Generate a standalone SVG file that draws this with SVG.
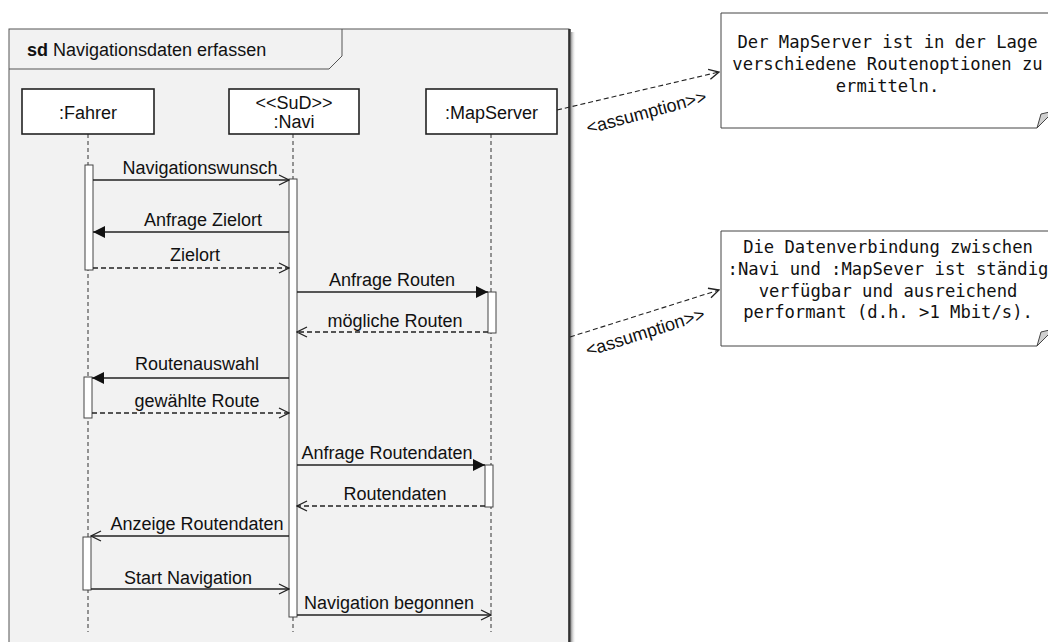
<svg xmlns="http://www.w3.org/2000/svg" width="1048" height="642" viewBox="0 0 1048 642">
<style>
.frame{fill:#f2f2f2;stroke:#555;stroke-width:1}
.tab{fill:none;stroke:#555;stroke-width:1}
.head{fill:#fff;stroke:#222;stroke-width:1.6}
.life{stroke:#333;stroke-width:1;stroke-dasharray:4 3;fill:none}
.act{fill:#fff;stroke:#444;stroke-width:1}
.msg{stroke:#222;stroke-width:1.3;fill:none}
.ret{stroke:#222;stroke-width:1.3;fill:none;stroke-dasharray:5 3}
.dep{stroke:#222;stroke-width:1.1;fill:none;stroke-dasharray:5 3}
.lbl{font-family:"Liberation Sans",Arial,sans-serif;font-size:18px;fill:#111;text-anchor:middle}
.title{font-family:"Liberation Sans",Arial,sans-serif;font-size:18px;fill:#111}
.note{fill:#fff;stroke:#444;stroke-width:1}
.fold{fill:#d0d0d0;stroke:#444;stroke-width:1}
.ntxt{font-family:"DejaVu Sans Mono","Liberation Mono",monospace;font-size:17.2px;fill:#111;text-anchor:middle}
</style>
<defs>
<marker id="open" viewBox="0 0 12 12" refX="11" refY="6" markerWidth="12" markerHeight="12" markerUnits="userSpaceOnUse" orient="auto"><path d="M1,1 L11,6 L1,11" fill="none" stroke="#222" stroke-width="1.3"/></marker>
<marker id="filled" viewBox="0 0 12 12" refX="12" refY="6" markerWidth="12" markerHeight="12" markerUnits="userSpaceOnUse" orient="auto"><path d="M0,0 L12,6 L0,12 Z" fill="#111"/></marker>
<linearGradient id="shadow" x1="0" y1="0" x2="1" y2="0"><stop offset="0" stop-color="#999"/><stop offset="1" stop-color="#fff" stop-opacity="0"/></linearGradient>
</defs>
<rect x="0" y="0" width="1048" height="642" fill="#fff"/>

<g id="frame">
<rect x="571" y="32" width="5" height="620" fill="url(#shadow)"/>
<rect class="frame" x="9" y="29" width="560" height="630"/>
<line x1="569.5" y1="29" x2="569.5" y2="642" stroke="#333" stroke-width="2.5"/>
<path class="tab" d="M9,69 H329 L342,56 V29"/>
<text class="title" x="27" y="56"><tspan font-weight="bold">sd</tspan> Navigationsdaten erfassen</text>
</g>

<g id="fahrer">
<line class="life" x1="88" y1="134" x2="88" y2="632"/>
<rect class="head" x="22" y="89" width="132" height="45"/>
<text class="lbl" x="88" y="119">:Fahrer</text>
<rect class="act" x="85" y="165" width="8" height="105"/>
<rect class="act" x="84" y="377" width="8" height="41"/>
<rect class="act" x="83" y="537" width="8" height="53"/>
</g>

<g id="navi">
<line class="life" x1="293" y1="134" x2="293" y2="632"/>
<rect class="head" x="229" y="89" width="130" height="45"/>
<text class="lbl" x="294" y="109">&lt;&lt;SuD&gt;&gt;</text>
<text class="lbl" x="294" y="128">:Navi</text>
<rect class="act" x="289" y="179" width="8" height="438"/>
</g>

<g id="mapserver">
<line class="life" x1="491" y1="134" x2="491" y2="632"/>
<rect class="head" x="426" y="89" width="131" height="45"/>
<text class="lbl" x="491.5" y="119">:MapServer</text>
<rect class="act" x="488" y="292" width="8" height="41"/>
<rect class="act" x="485" y="465" width="8" height="42"/>
</g>

<g id="note1">
<path class="note" d="M721,13 H1054 V111 L1037,128 H721 Z"/>
<path class="fold" d="M1037,128 L1041,114 L1054,111 Z"/>
<text class="ntxt" x="887.5" y="48">Der MapServer ist in der Lage</text>
<text class="ntxt" x="887.5" y="70">verschiedene Routenoptionen zu</text>
<text class="ntxt" x="887.5" y="92">ermitteln.</text>
</g>

<g id="note2">
<path class="note" d="M721,231 H1054 V329 L1037,346 H721 Z"/>
<path class="fold" d="M1037,346 L1041,332 L1054,329 Z"/>
<text class="ntxt" x="888" y="253">Die Datenverbindung zwischen</text>
<text class="ntxt" x="888" y="275">:Navi und :MapSever ist ständig</text>
<text class="ntxt" x="888" y="297">verfügbar und ausreichend</text>
<text class="ntxt" x="888" y="318">performant (d.h. &gt;1 Mbit/s).</text>
</g>

<g id="connectors">
<line class="msg" x1="93" y1="180" x2="289" y2="180" marker-end="url(#open)"/>
<text class="lbl" x="200" y="174">Navigationswunsch</text>

<line class="msg" x1="289" y1="232" x2="93" y2="232" marker-end="url(#filled)"/>
<text class="lbl" x="203" y="226">Anfrage Zielort</text>

<line class="ret" x1="93" y1="268" x2="289" y2="268" marker-end="url(#open)"/>
<text class="lbl" x="195" y="261">Zielort</text>

<line class="msg" x1="297" y1="292" x2="488" y2="292" marker-end="url(#filled)"/>
<text class="lbl" x="392" y="286">Anfrage Routen</text>

<line class="ret" x1="488" y1="332" x2="297" y2="332" marker-end="url(#open)"/>
<text class="lbl" x="395" y="327">mögliche Routen</text>

<line class="msg" x1="289" y1="378" x2="92" y2="378" marker-end="url(#filled)"/>
<text class="lbl" x="197" y="370">Routenauswahl</text>

<line class="ret" x1="92" y1="413" x2="289" y2="413" marker-end="url(#open)"/>
<text class="lbl" x="197" y="407">gewählte Route</text>

<line class="msg" x1="297" y1="465" x2="485" y2="465" marker-end="url(#filled)"/>
<text class="lbl" x="387" y="459">Anfrage Routendaten</text>

<line class="ret" x1="485" y1="506" x2="297" y2="506" marker-end="url(#open)"/>
<text class="lbl" x="395" y="500">Routendaten</text>

<line class="msg" x1="289" y1="536" x2="91" y2="536" marker-end="url(#open)"/>
<text class="lbl" x="197" y="530">Anzeige Routendaten</text>

<line class="msg" x1="91" y1="589" x2="289" y2="589" marker-end="url(#open)"/>
<text class="lbl" x="188" y="584">Start Navigation</text>

<line class="msg" x1="297" y1="615" x2="491" y2="615" marker-end="url(#open)"/>
<text class="lbl" x="389" y="609">Navigation begonnen</text>

<line class="dep" x1="557" y1="110" x2="719" y2="72" marker-end="url(#open)"/>
<text class="lbl" transform="translate(648,118) rotate(-15)">&lt;assumption&gt;&gt;</text>

<line class="dep" x1="570" y1="337" x2="719" y2="290" marker-end="url(#open)"/>
<text class="lbl" transform="translate(647,338) rotate(-17.5)">&lt;assumption&gt;&gt;</text>
</g>
</svg>
